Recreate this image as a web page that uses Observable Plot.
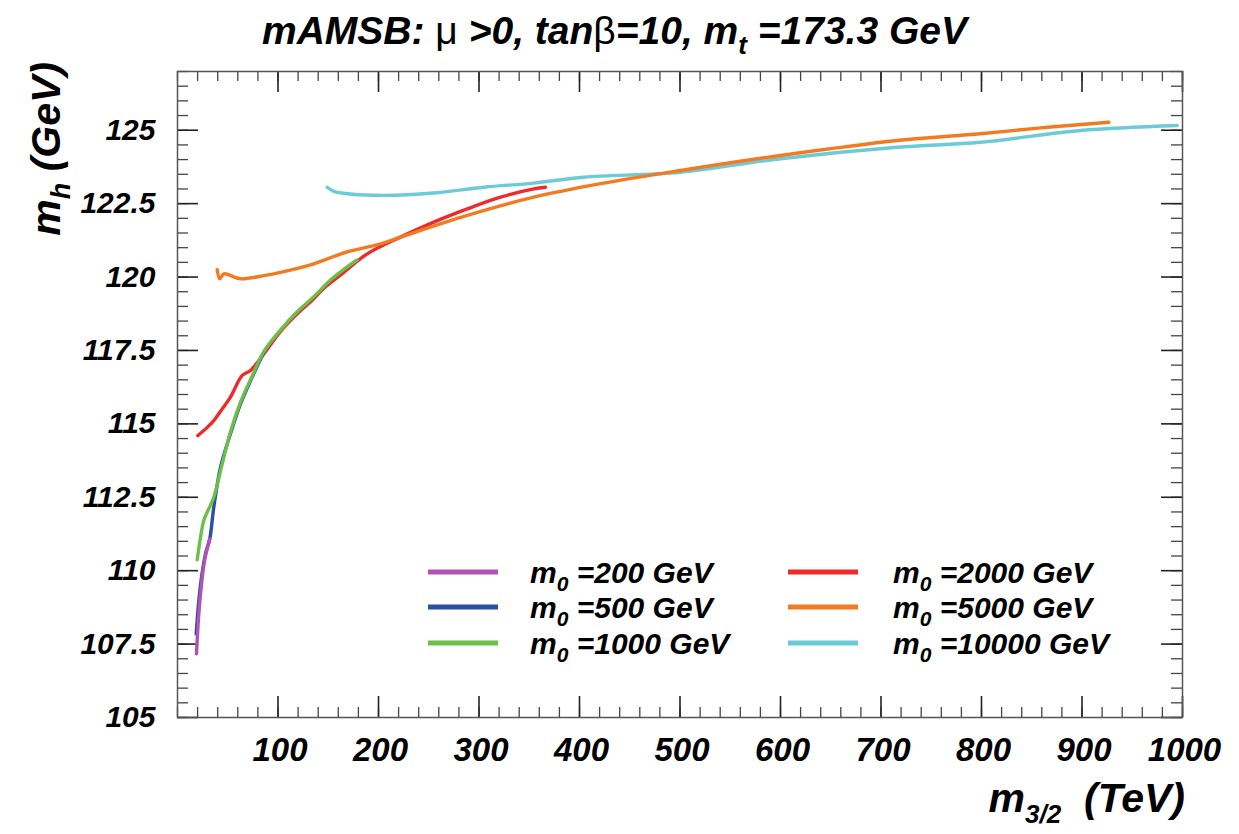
<!DOCTYPE html>
<html><head><meta charset="utf-8">
<script src="https://cdn.jsdelivr.net/npm/d3@7"></script>
<script src="https://cdn.jsdelivr.net/npm/@observablehq/plot@0.6"></script>
<style>
body{margin:0;background:#fff;}
#wrap{position:relative;width:1239px;height:834px;}
#over{position:absolute;left:0;top:0;pointer-events:none;}
#over text{font-family:"Liberation Sans",Arial,sans-serif;font-weight:bold;font-style:italic;fill:#000;}
#over .sym{font-weight:normal;font-style:normal;}
</style></head><body><div id="wrap"></div>
<script>
// ---- data ----
const m200X = [18.9, 21.2, 23.6, 26.9, 32.1];
const m200Y = [107.17, 108.53, 109.44, 110.34, 111.08];
const m500X = [18.6, 21, 24, 28, 32.1, 36.1, 42.8, 52.7, 62.7, 74.3, 85.9];
const m500Y = [107.85, 108.9, 109.8, 110.6, 111.08, 112.16, 113.52, 114.66, 115.68, 116.59, 117.44];
const m1000X = [19.6, 22.9, 26.2, 36.1, 44.5, 52.7, 62.7, 74.3, 85.9, 102.5, 119.1, 135.6, 152.2, 168.8, 178.8];
const m1000Y = [110.37, 111.14, 111.71, 112.5, 113.64, 114.72, 115.74, 116.63, 117.46, 118.2, 118.82, 119.33, 119.9, 120.35, 120.58];
const m2000X = [20.2, 29.6, 36.1, 44.5, 52.7, 64.4, 72.6, 85.9, 102.5, 119.1, 135.6, 145.6, 165.5, 188.8, 221.9, 255, 288.3, 321.4, 354.5, 366.2];
const m2000Y = [114.6, 114.88, 115.11, 115.51, 115.91, 116.65, 116.82, 117.38, 118.15, 118.75, 119.26, 119.62, 120.16, 120.79, 121.36, 121.87, 122.32, 122.72, 123.0, 123.06];
const m5000X = [39.5, 42.1, 46.1, 62.7, 85.9, 102.5, 135.6, 155.5, 170, 202, 221.9, 288.3, 354.5, 420.9, 500.5, 600, 716.1, 799, 865.4, 926.7];
const m5000Y = [120.25, 119.94, 120.11, 119.94, 120.05, 120.16, 120.45, 120.7, 120.87, 121.13, 121.36, 122.1, 122.72, 123.18, 123.63, 124.14, 124.65, 124.88, 125.1, 125.27];
const m10000X = [149, 155.5, 172.1, 205.3, 255, 304.8, 354.5, 404.3, 500.5, 600, 716.1, 799, 898.5, 994.7];
const m10000Y = [123.06, 122.92, 122.83, 122.78, 122.86, 123.06, 123.2, 123.4, 123.57, 124.03, 124.42, 124.59, 124.99, 125.16];

const seriesNames = ["200", "500", "1000", "2000", "5000", "10000"];
const seriesColors = ["#b451b4", "#2b4ea6", "#6cc04a", "#ee2b2b", "#f27b22", "#6ccbd6"];
const drawOrder = ["2000", "10000", "5000", "500", "200", "1000"];

const xTickValues = [100, 200, 300, 400, 500, 600, 700, 800, 900, 1000];
const yTickValues = [105, 107.5, 110, 112.5, 115, 117.5, 120, 122.5, 125];
const xMinor = d3.range(0, 1001, 20);
const yMinor = d3.range(105, 127.01, 0.5);

// ---- build table ----
const seriesData = {
  "200": [m200X, m200Y], "500": [m500X, m500Y], "1000": [m1000X, m1000Y],
  "2000": [m2000X, m2000Y], "5000": [m5000X, m5000Y], "10000": [m10000X, m10000Y]
};
const rows = drawOrder.flatMap(s => seriesData[s][0].map((x, i) => ({x, y: seriesData[s][1][i], s})));

const W = 1239, H = 834, mL = 177, mR = 57, mT = 71, mB = 117;
const iw = W - mL - mR, ih = H - mT - mB;
const font = '"Liberation Sans", Arial, sans-serif';

const chart = Plot.plot({
  width: W, height: H,
  marginLeft: mL, marginRight: mR, marginTop: mT, marginBottom: mB,
  x: {domain: [0, 1000], axis: null},
  y: {domain: [105, 127], axis: null},
  color: {domain: seriesNames, range: seriesColors},
  style: {background: "white", overflow: "visible", color: "#000"},
  marks: [
    Plot.tickX(xMinor, {x: d => d, insetTop: ih - 10, stroke: "#444", strokeWidth: 1.3}),
    Plot.tickX(xMinor, {x: d => d, insetBottom: ih - 10, stroke: "#444", strokeWidth: 1.3}),
    Plot.tickX(xTickValues, {x: d => d, insetTop: ih - 21, stroke: "#222", strokeWidth: 1.6}),
    Plot.tickX(xTickValues, {x: d => d, insetBottom: ih - 21, stroke: "#222", strokeWidth: 1.6}),
    Plot.tickY(yMinor, {y: d => d, insetRight: iw - 11, stroke: "#444", strokeWidth: 1.3}),
    Plot.tickY(yMinor, {y: d => d, insetLeft: iw - 11, stroke: "#444", strokeWidth: 1.3}),
    Plot.tickY(yTickValues, {y: d => d, insetRight: iw - 21, stroke: "#222", strokeWidth: 1.6}),
    Plot.tickY(yTickValues, {y: d => d, insetLeft: iw - 21, stroke: "#222", strokeWidth: 1.6}),
    Plot.frame({stroke: "#555", strokeWidth: 1.5}),
    Plot.axisX({ticks: xTickValues, tickSize: 0, tickPadding: 20, tickFormat: d => String(d), label: null,
      fontSize: 33, fontWeight: "bold", fontStyle: "italic", fontFamily: font, dx: 2}),
    Plot.axisY({ticks: yTickValues, tickSize: 0, tickPadding: 22, tickFormat: d => String(d), label: null,
      fontSize: 30, fontWeight: "bold", fontStyle: "italic", fontFamily: font}),
    Plot.line(rows, {x: "x", y: "y", z: "s", stroke: "s", strokeWidth: 3.4, curve: "catmull-rom"})
  ]
});

const wrap = document.getElementById("wrap");
wrap.appendChild(chart);

// ---- overlay: title, axis titles, legend ----
const legendRowY = [572, 607, 643];
const legendLineX = [428, 788];
const legendTextX = [530, 893];
let leg = "";
seriesNames.forEach((n, i) => {
  const col = i < 3 ? 0 : 1, row = i % 3;
  const ly = legendRowY[row];
  leg += `<line x1="${legendLineX[col]}" x2="${legendLineX[col] + 70}" y1="${ly}" y2="${ly}" stroke="${seriesColors[i]}" stroke-width="5"/>`;
  leg += `<text x="${legendTextX[col]}" y="${ly + 11}" font-size="30">m<tspan font-size="21" dy="8">0</tspan><tspan dy="-8"> =${n} GeV</tspan></text>`;
});

const over = `<svg id="over" width="${W}" height="${H}" xmlns="http://www.w3.org/2000/svg">
<text x="262" y="44" font-size="39">mAMSB: <tspan class="sym">μ</tspan> &gt;0, tan<tspan class="sym">β</tspan>=10, m<tspan font-size="26" dy="10">t</tspan><tspan dy="-10"> =173.3 GeV</tspan></text>
<text transform="translate(60,62) rotate(-90)" text-anchor="end" font-size="41">m<tspan font-size="27" dy="10">h</tspan><tspan dy="-10"> (GeV)</tspan></text>
<text x="1185" y="812" text-anchor="end" font-size="41">m<tspan font-size="26" dy="11">3/2</tspan><tspan dy="-11">\u00a0 (TeV)</tspan></text>
${leg}
</svg>`;
wrap.insertAdjacentHTML("beforeend", over);
</script>
</body></html>
